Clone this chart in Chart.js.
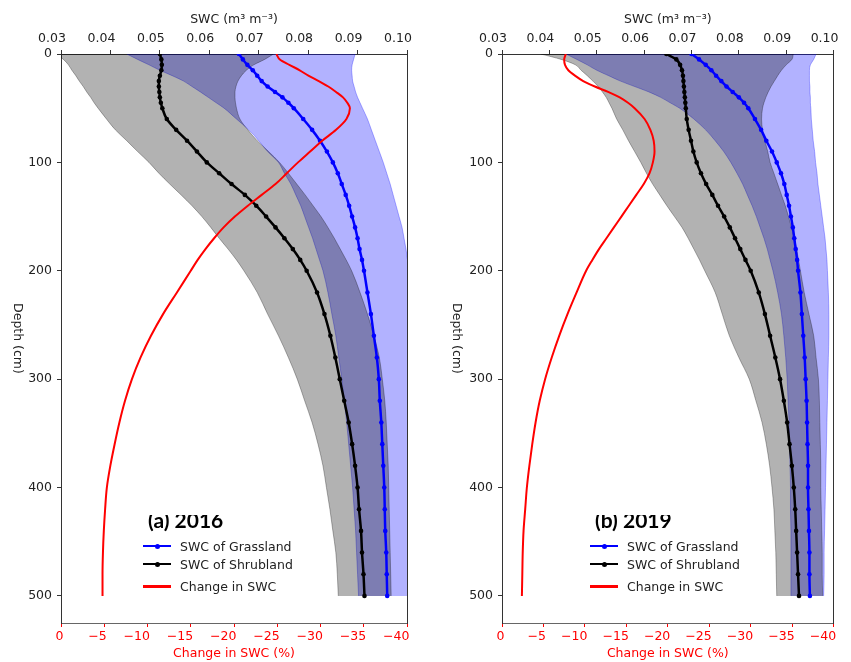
<!DOCTYPE html>
<html>
<head>
<meta charset="utf-8">
<script src="https://cdn.jsdelivr.net/npm/chart.js@4.4.1/dist/chart.umd.min.js"></script>
<style>
  body { margin: 0; background: #fff; }
  #wrap { position: relative; width: 851px; height: 662px; overflow: hidden; font-family: "DejaVu Sans", sans-serif; }
  canvas { position: absolute; top: 0; }
  .lbl { position: absolute; top: 515px; height: 20px; overflow: hidden; }
  .lbl span { position: relative; display: block; top: -5.6px; font: bold 21px Lato, sans-serif; line-height: 21px; color: #000; white-space: nowrap; }
  .legtext { position: absolute; font-size: 12.5px; line-height: 15px; color: #222; white-space: nowrap; }
  .legline { position: absolute; width: 28px; height: 2.5px; }
  .legdot { position: absolute; width: 5px; height: 5px; border-radius: 50%; }
</style>
</head>
<body>
<div id="wrap">
  <canvas id="c2016" width="425" height="662" style="left:0"></canvas>
  <canvas id="c2019" width="426" height="662" style="left:425px"></canvas>
  <div class="lbl" style="left:148px"><span>(a) 2016</span></div>
  <div class="lbl" style="left:595px"><span>(b) 2019</span></div>
</div>
<script>
// depth of each profile node (cm)
const depth = [0,5,10,15,20,25,30,35,40,45,50,60,70,80,90,100,110,120,130,140,150,160,170,180,190,200,
  220,240,260,280,300,320,340,360,380,400,420,440,460,480,500];

// ===== 2016 =====
const grass2016 = [0.0660,0.0668,0.0677,0.0688,0.0697,0.0706,0.0718,0.0733,0.0748,0.0760,0.0771,
  0.0790,0.0808,0.0824,0.0838,0.0850,0.0860,0.0868,0.0876,0.0883,0.0889,0.0895,0.0900,0.0904,0.0909,0.0913,
  0.0920,0.0927,0.0933,0.0939,0.0943,0.0945,0.0948,0.0950,0.0952,0.0954,0.0955,0.0956,0.0958,0.0959,0.0960];
const shrub2016 = [0.0500,0.0503,0.0504,0.0503,0.0500,0.0498,0.0498,0.0499,0.0500,0.0502,0.0505,
  0.0514,0.0533,0.0555,0.0575,0.0595,0.0620,0.0645,0.0672,0.0695,0.0715,0.0734,0.0752,0.0769,0.0784,0.0797,
  0.0818,0.0833,0.0845,0.0855,0.0864,0.0873,0.0882,0.0889,0.0895,0.0900,0.0903,0.0907,0.0909,0.0912,0.0914];
const change2016 = [-24.9,-25.3,-26.4,-27.6,-28.6,-29.8,-30.9,-31.8,-32.6,-33.1,-33.4,
  -33.0,-31.8,-30.2,-28.8,-27.4,-26.1,-24.8,-23.2,-21.6,-20.1,-18.8,-17.7,-16.7,-15.8,-15.0,
  -13.4,-11.8,-10.4,-9.2,-8.2,-7.4,-6.75,-6.2,-5.7,-5.3,-5.1,-4.95,-4.85,-4.8,-4.8];
const shrubLo2016 = [0.0290,0.0305,0.0315,0.0322,0.0330,0.0337,0.0345,0.0352,0.0360,0.0367,0.0375,
  0.0392,0.0410,0.0433,0.0455,0.0478,0.0498,0.0520,0.0543,0.0565,0.0585,0.0603,0.0620,0.0638,0.0655,0.0670,
  0.0697,0.0718,0.0740,0.0760,0.0778,0.0793,0.0808,0.0820,0.0830,0.0837,0.0844,0.0850,0.0856,0.0859,0.0861];
const shrubHi2016 = [0.0730,0.0712,0.0690,0.0675,0.0665,0.0658,0.0654,0.0652,0.0652,0.0653,0.0655,
  0.0662,0.0678,0.0697,0.0720,0.0742,0.0760,0.0777,0.0794,0.0810,0.0826,0.0840,0.0853,0.0865,0.0877,0.0888,
  0.0905,0.0920,0.0933,0.0944,0.0950,0.0955,0.0958,0.0960,0.0962,0.0963,0.0964,0.0965,0.0966,0.0967,0.0968];
const grassLo2016 = [0.0433,0.0455,0.0478,0.0500,0.0525,0.0548,0.0565,0.0582,0.0598,0.0614,0.0630,
  0.0655,0.0680,0.0700,0.0718,0.0740,0.0752,0.0765,0.0775,0.0785,0.0793,0.0801,0.0809,0.0816,0.0823,0.0830,
  0.0840,0.0848,0.0856,0.0862,0.0868,0.0873,0.0878,0.0882,0.0886,0.0890,0.0893,0.0896,0.0898,0.0900,0.0902];
const grassHi2016 = [0.0895,0.0892,0.0889,0.0888,0.0889,0.0890,0.0893,0.0896,0.0900,0.0905,0.0910,
  0.0920,0.0928,0.0936,0.0944,0.0952,0.0959,0.0966,0.0972,0.0978,0.0984,0.0990,0.0994,0.0998,0.1001,0.1004,
  0.1008,0.1011,0.1014,0.1016,0.1017,0.1018,0.1018,0.1018,0.1018,0.1018,0.1018,0.1018,0.1018,0.1018,0.1018];

// ===== 2019 =====
const grass2019 = [0.0700,0.0716,0.0730,0.0742,0.0752,0.0763,0.0774,0.0787,0.0800,0.0811,0.0820,
  0.0834,0.0847,0.0858,0.0870,0.0880,0.0889,0.0896,0.0901,0.0906,0.0910,0.0914,0.0917,0.0920,0.0923,0.0925,
  0.0930,0.0933,0.0936,0.0939,0.0941,0.0943,0.0944,0.0945,0.0946,0.0946,0.0947,0.0948,0.0949,0.0949,0.0950];
const shrub2019 = [0.0647,0.0668,0.0676,0.0680,0.0682,0.0683,0.0684,0.0685,0.0686,0.0687,0.0688,
  0.0690,0.0694,0.0699,0.0704,0.0711,0.0720,0.0731,0.0744,0.0756,0.0769,0.0781,0.0792,0.0803,0.0814,0.0825,
  0.0842,0.0855,0.0866,0.0877,0.0887,0.0895,0.0902,0.0907,0.0912,0.0916,0.0919,0.0921,0.0923,0.0925,0.0927];
const change2019 = [-7.7,-7.5,-7.6,-8.0,-8.8,-9.8,-11.2,-12.8,-14.2,-15.2,-16.0,
  -17.2,-17.9,-18.3,-18.4,-18.2,-17.8,-17.1,-16.2,-15.3,-14.4,-13.5,-12.6,-11.7,-10.9,-10.15,
  -9.0,-7.9,-6.9,-6.0,-5.2,-4.55,-4.05,-3.65,-3.3,-3.0,-2.8,-2.6,-2.5,-2.45,-2.4];
const shrubLo2019 = [0.0382,0.0425,0.0455,0.0467,0.0480,0.0492,0.0503,0.0512,0.0520,0.0526,0.0532,
  0.0542,0.0555,0.0567,0.0580,0.0593,0.0605,0.0618,0.0633,0.0648,0.0664,0.0680,0.0693,0.0705,0.0717,0.0728,
  0.0750,0.0765,0.0780,0.0800,0.0822,0.0836,0.0849,0.0858,0.0865,0.0870,0.0874,0.0876,0.0878,0.0879,0.0880];
const shrubHi2019 = [0.0915,0.0912,0.0900,0.0890,0.0882,0.0875,0.0868,0.0862,0.0857,0.0853,0.0850,
  0.0848,0.0850,0.0855,0.0861,0.0866,0.0874,0.0882,0.0890,0.0898,0.0905,0.0911,0.0917,0.0922,0.0926,0.0930,
  0.0938,0.0948,0.0958,0.0963,0.0968,0.0970,0.0971,0.0972,0.0973,0.0973,0.0974,0.0975,0.0976,0.0976,0.0977];
const grassLo2019 = [0.0435,0.0458,0.0480,0.0500,0.0525,0.0550,0.0580,0.0610,0.0635,0.0655,0.0675,
  0.0705,0.0730,0.0750,0.0768,0.0783,0.0796,0.0808,0.0818,0.0828,0.0837,0.0845,0.0853,0.0860,0.0866,0.0872,
  0.0882,0.0890,0.0895,0.0899,0.0902,0.0904,0.0906,0.0907,0.0908,0.0909,0.0909,0.0910,0.0910,0.0910,0.0910];
const grassHi2019 = [0.0963,0.0958,0.0951,0.0949,0.0949,0.0949,0.0950,0.0950,0.0951,0.0951,0.0952,
  0.0953,0.0955,0.0957,0.0960,0.0962,0.0965,0.0967,0.0970,0.0973,0.0976,0.0979,0.0982,0.0984,0.0986,0.0987,
  0.0989,0.0990,0.0990,0.0989,0.0988,0.0987,0.0986,0.0985,0.0984,0.0983,0.0982,0.0981,0.0980,0.0980,0.0979];

// tick labels
const depthTicks = [0,100,200,300,400,500];
const swcTicks = [0.03,0.04,0.05,0.06,0.07,0.08,0.09,0.10];
const changeTicks = [0,-5,-10,-15,-20,-25,-30,-35,-40];
const legendLabels = ['SWC of Grassland','SWC of Shrubland','Change in SWC'];

const tickFont = { family: 'DejaVu Sans', size: 12.5 };

function pts(vals) {
    return vals.map((v, i) => ({ x: v, y: depth[i] }));
}

function setTicks(list) {
    return scale => { scale.ticks = list.map(v => ({ value: v })); };
}

// y title reads top-to-bottom like the original, so draw it ourselves
const depthTitle = {
    id: 'depthTitle',
    afterDraw(chart, args, opts) {
        const { ctx, chartArea } = chart;
        ctx.save();
        ctx.translate(opts.x, (chartArea.top + chartArea.bottom) / 2);
        ctx.rotate(Math.PI / 2);
        ctx.font = '12.5px "DejaVu Sans"';
        ctx.fillStyle = '#222';
        ctx.textAlign = 'center';
        ctx.textBaseline = 'middle';
        ctx.fillText('Depth (cm)', 0, 0);
        ctx.restore();
    }
};

function makeChart(id, d, yWidth, padRight, titleX) {
    const band = (vals, color, fill) => ({
        label: '', data: pts(vals), xAxisID: 'x', yAxisID: 'y',
        borderColor: color, backgroundColor: color, borderWidth: 1,
        pointRadius: 0, fill: fill, cubicInterpolationMode: 'monotone'
    });
    return new Chart(document.getElementById(id), {
        type: 'line',
        data: {
            datasets: [
                { label: legendLabels[2], data: pts(d.change), xAxisID: 'x2', yAxisID: 'y',
                  borderColor: '#ff0000', borderWidth: 2, pointRadius: 0, fill: false,
                  cubicInterpolationMode: 'monotone' },
                { label: legendLabels[0], data: pts(d.grass), xAxisID: 'x', yAxisID: 'y',
                  borderColor: '#0000ff', backgroundColor: '#0000ff', borderWidth: 2.5,
                  pointRadius: 2.3, pointBorderWidth: 0, fill: false, cubicInterpolationMode: 'monotone' },
                { label: legendLabels[1], data: pts(d.shrub), xAxisID: 'x', yAxisID: 'y',
                  borderColor: '#000000', backgroundColor: '#000000', borderWidth: 2.5,
                  pointRadius: 2.3, pointBorderWidth: 0, fill: false, cubicInterpolationMode: 'monotone' },
                band(d.shrubLo, 'rgba(0,0,0,0.3)', false),
                band(d.shrubHi, 'rgba(0,0,0,0.3)', 3),
                band(d.grassLo, 'rgba(0,0,255,0.3)', false),
                band(d.grassHi, 'rgba(0,0,255,0.3)', 5)
            ]
        },
        options: {
            indexAxis: 'y',
            responsive: false,
            animation: false,
            layout: { padding: { left: 0, right: padRight, top: 0, bottom: 0 } },
            plugins: {
                legend: { display: false },
                tooltip: { enabled: false },
                depthTitle: { x: titleX }
            },
            scales: {
                x: {
                    type: 'linear', position: 'top', min: 0.03, max: 0.10,
                    afterBuildTicks: setTicks(swcTicks),
                    ticks: { font: tickFont, color: '#222', padding: 3.5, maxRotation: 0, autoSkip: false,
                             labelOffset: -9, callback: v => v.toFixed(2) },
                    grid: { drawOnChartArea: false, tickLength: 4, color: '#333' },
                    border: { color: '#333', width: 1 },
                    title: { display: true, text: 'SWC (m³ m⁻³)', font: tickFont, color: '#222',
                             padding: { top: 12.5, bottom: 0 } },
                    afterFit: s => { s.height = 54; }
                },
                x2: {
                    type: 'linear', position: 'bottom', min: -40, max: 0, reverse: true,
                    afterBuildTicks: setTicks(changeTicks),
                    ticks: { font: tickFont, color: '#ff0000', padding: 2, maxRotation: 0, autoSkip: false,
                             align: 'end', labelOffset: 2.5,
                             callback: v => v === 0 ? '0' : '\u2212' + Math.abs(v) },
                    grid: { drawOnChartArea: false, tickLength: 4, color: '#ff0000' },
                    border: { color: '#666', width: 1 },
                    title: { display: true, text: 'Change in SWC (%)', font: tickFont, color: '#ff0000',
                             padding: { top: 0, bottom: 0.5 } },
                    afterFit: s => { s.height = 39; }
                },
                y: {
                    type: 'linear', position: 'left', reverse: true, min: 0, max: 525,
                    afterBuildTicks: setTicks(depthTicks),
                    ticks: { font: tickFont, color: '#222', padding: 5, autoSkip: false },
                    grid: { drawOnChartArea: false, tickLength: 4, color: '#333' },
                    border: { color: '#333', width: 1 },
                    afterFit: s => { s.width = yWidth; }
                },
                yR: {
                    type: 'linear', position: 'right', min: 0, max: 525,
                    ticks: { display: false },
                    grid: { drawOnChartArea: false, drawTicks: false },
                    border: { color: '#333', width: 1 },
                    afterFit: s => { s.width = 0; }
                }
            }
        },
        plugins: [depthTitle]
    });
}

// ===== LEGENDS =====
function addLegend(lineX, textX) {
    const wrap = document.getElementById('wrap');
    const rows = [546, 564, 586.7];
    const colors = ['#0000ff', '#000000', '#ff0000'];
    legendLabels.forEach((label, i) => {
        const line = document.createElement('div');
        line.className = 'legline';
        line.style.left = lineX + 'px';
        line.style.top = (rows[i] - 1.25) + 'px';
        line.style.background = colors[i];
        wrap.appendChild(line);
        if (i < 2) {
            const dot = document.createElement('div');
            dot.className = 'legdot';
            dot.style.left = (lineX + 11.5) + 'px';
            dot.style.top = (rows[i] - 2.5) + 'px';
            dot.style.background = colors[i];
            wrap.appendChild(dot);
        }
        const txt = document.createElement('div');
        txt.className = 'legtext';
        txt.style.left = textX + 'px';
        txt.style.top = (rows[i] - 7.25) + 'px';
        txt.textContent = label;
        wrap.appendChild(txt);
    });
}

makeChart('c2016', {
    grass: grass2016, shrub: shrub2016, change: change2016,
    shrubLo: shrubLo2016, shrubHi: shrubHi2016, grassLo: grassLo2016, grassHi: grassHi2016
}, 61, 18, 17);

makeChart('c2019', {
    grass: grass2019, shrub: shrub2019, change: change2019,
    shrubLo: shrubLo2019, shrubHi: shrubHi2019, grassLo: grassLo2019, grassHi: grassHi2019
}, 77, 4, 31);

addLegend(143, 180);
addLegend(590, 627);
</script>
</body>
</html>
